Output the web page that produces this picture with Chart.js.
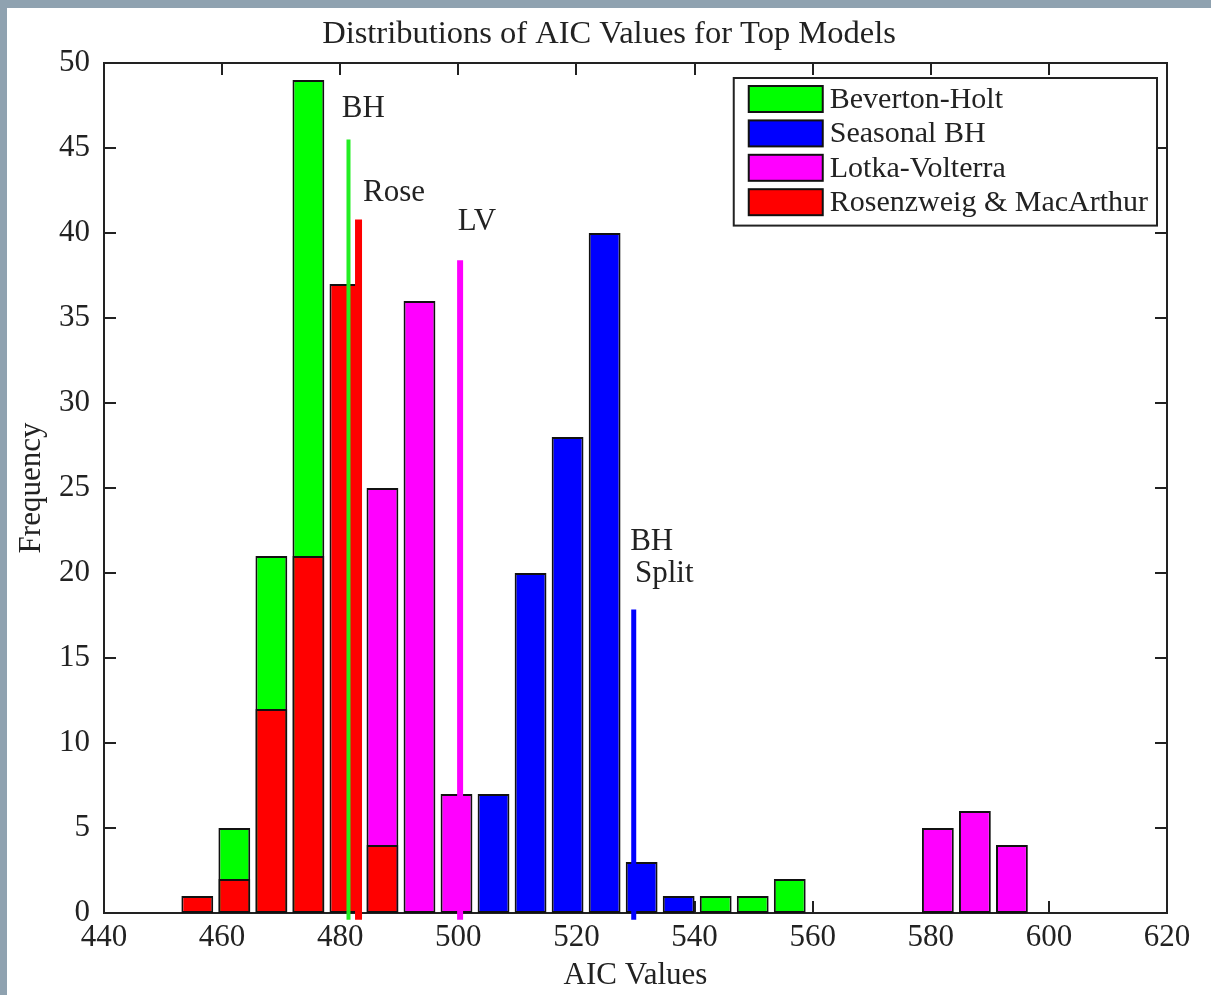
<!DOCTYPE html>
<html>
<head>
<meta charset="utf-8">
<title>Distributions of AIC Values for Top Models</title>
<script src="https://cdn.jsdelivr.net/npm/chart.js@4.4.1/dist/chart.umd.min.js"></script>
<style>
  html, body { margin: 0; padding: 0; background: #8fa2b0; overflow: hidden; }
  #frame { position: absolute; left: 7px; top: 8px; width: 1204px; height: 987px; background: #fff; }
  canvas { display: block; }
</style>
</head>
<body>
<div id="frame"><canvas id="aicChart" width="1204" height="987"></canvas></div>
<script>
/* ── DATA ─────────────────────────────────────────────── */
const binCenters   = [455.80, 462.07, 468.34, 474.61, 480.88, 487.15, 493.42, 499.69, 505.96, 512.23,
                      518.50, 524.77, 531.04, 537.31, 543.58, 549.85, 556.12, 581.20, 587.47, 593.74];
const bevertonHolt = [null, 5, 21, 49, null, null, null, null, null, null,
                      null, null, null, null, 1, 1, 2, null, null, null];
const seasonalBH   = [null, null, null, null, null, null, null, null, 7, 20,
                      28, 40, 3, 1, null, null, null, null, null, null];
const lotkaVolt    = [null, null, null, null, null, 25, 36, 7, null, null,
                      null, null, null, null, null, null, null, 5, 6, 4];
const rosenMac     = [1, 2, 12, 21, 37, 4, null, null, null, null,
                      null, null, null, null, null, null, null, null, null, null];

const seriesLabels = ['Beverton-Holt', 'Seasonal BH', 'Lotka-Volterra', 'Rosenzweig & MacArthur'];
const seriesColors = ['#00ff00', '#0000ff', '#ff00ff', '#ff0000'];

/* best-model marker lines (AIC value, height) */
const markerX      = [481.4, 483.1, 500.3, 529.7];
const markerTop    = [45.5, 40.8, 38.4, 17.85];
const markerColors = ['#22ee22', '#ff0000', '#ff00ff', '#0000ff'];
const markerWidths = [4, 7, 6, 5];

/* marker annotations */
const annoText = ['BH', 'Rose', 'LV', 'BH', 'Split'];
const annoX    = [480.25, 483.85, 499.9, 529.1, 529.9];
const annoY    = [46.8, 41.9, 40.2, 21.35, 19.5];

const xTickMin = 440, xTickMax = 620, xTickStep = 20;
const yTickMin = 0,   yTickMax = 50,  yTickStep = 5;

/* ── HELPERS ──────────────────────────────────────────── */
const SERIF = '"Liberation Serif", "Times New Roman", serif';
const INK   = '#222';

const toPoints = counts =>
  binCenters.map((x, i) => ({ x, y: counts[i] })).filter(p => p.y !== null);

const barSets = [bevertonHolt, seasonalBH, lotkaVolt, rosenMac].map((counts, i) => ({
  type: 'bar',
  label: seriesLabels[i],
  data: toPoints(counts),
  backgroundColor: seriesColors[i],
  borderColor: '#111',
  borderWidth: 2,
  borderSkipped: false,
  grouped: false,
  barPercentage: 0.86,
  categoryPercentage: 1,
  order: i === 3 ? 0 : 1          // red drawn in front
}));

const lineSets = markerX.map((x, i) => ({
  type: 'line',
  label: '',
  data: [{ x, y: -0.4 }, { x, y: markerTop[i] }],
  borderColor: markerColors[i],
  borderWidth: markerWidths[i],
  borderCapStyle: 'butt',
  pointRadius: 0,
  clip: false,
  order: -1
}));

/* ── PLUGINS ──────────────────────────────────────────── */
// box round the axes with inward ticks on all four sides (drawn behind bars)
const matlabAxes = {
  id: 'matlabAxes',
  beforeDatasetsDraw(chart) {
    const { ctx, chartArea: a, scales: { x, y } } = chart;
    const tl = 12;
    ctx.save();
    ctx.strokeStyle = INK;
    ctx.lineWidth = 2;
    ctx.strokeRect(a.left, a.top, a.right - a.left, a.bottom - a.top);
    ctx.beginPath();
    x.ticks.forEach(t => {
      const px = Math.round(x.getPixelForValue(t.value));
      ctx.moveTo(px, a.bottom); ctx.lineTo(px, a.bottom - tl);
      ctx.moveTo(px, a.top);    ctx.lineTo(px, a.top + tl);
    });
    y.ticks.forEach(t => {
      const py = Math.round(y.getPixelForValue(t.value));
      ctx.moveTo(a.left, py);  ctx.lineTo(a.left + tl, py);
      ctx.moveTo(a.right, py); ctx.lineTo(a.right - tl, py);
    });
    ctx.stroke();
    ctx.restore();
  }
};

// text labels next to the marker lines
const markerLabels = {
  id: 'markerLabels',
  afterDraw(chart) {
    const { ctx, scales: { x, y } } = chart;
    ctx.save();
    ctx.font = '31px ' + SERIF;
    ctx.fillStyle = INK;
    ctx.textAlign = 'left';
    ctx.textBaseline = 'alphabetic';
    annoText.forEach((t, i) => ctx.fillText(t, x.getPixelForValue(annoX[i]), y.getPixelForValue(annoY[i])));
    ctx.restore();
  }
};

// MATLAB style legend box inside the top-right corner
const boxLegend = {
  id: 'boxLegend',
  afterDraw(chart) {
    const { ctx, chartArea: a } = chart;
    const sets = chart.data.datasets.filter(d => d.type === 'bar');
    ctx.save();
    ctx.font = '30px ' + SERIF;
    const textW = Math.max(...sets.map(d => ctx.measureText(d.label).width));
    const swW = 74, swH = 26, rowH = 34.4;
    const w = 15 + swW + 7 + textW + 9;
    const h = 8 + rowH * sets.length + 2;
    const left = a.right - 10 - w, top = a.top + 15;
    ctx.fillStyle = '#fff';
    ctx.fillRect(left, top, w, h);
    ctx.strokeStyle = INK;
    ctx.lineWidth = 2;
    ctx.strokeRect(left, top, w, h);
    sets.forEach((d, i) => {
      const sy = top + 8 + i * rowH;
      ctx.fillStyle = d.backgroundColor;
      ctx.fillRect(left + 15, sy, swW, swH);
      ctx.strokeStyle = '#111';
      ctx.strokeRect(left + 15, sy, swW, swH);
      ctx.fillStyle = INK;
      ctx.textBaseline = 'alphabetic';
      ctx.fillText(d.label, left + 15 + swW + 7, sy + 22);
    });
    ctx.restore();
  }
};

/* ── CHART ────────────────────────────────────────────── */
new Chart(document.getElementById('aicChart'), {
  data: { datasets: [...barSets, ...lineSets] },
  options: {
    responsive: false,
    animation: false,
    events: [],
    layout: { padding: 0 },
    plugins: {
      legend: { display: false },
      tooltip: { enabled: false },
      title: {
        display: true,
        text: 'Distributions of AIC Values for Top Models',
        color: INK,
        font: { family: SERIF, size: 32.5, weight: 'normal', lineHeight: 1.2 },
        padding: { top: 7, bottom: 9 }
      }
    },
    scales: {
      x: {
        type: 'linear',
        offset: false,
        min: xTickMin, max: xTickMax,
        grid: { display: false, drawTicks: false, offset: false },
        border: { display: false },
        ticks: { stepSize: xTickStep, color: INK, padding: 6, font: { family: SERIF, size: 31 } },
        title: { display: true, text: 'AIC Values', color: INK, padding: { top: 0, bottom: 1 },
                 font: { family: SERIF, size: 31, lineHeight: 1.2 } },
        afterFit: s => { s.height = 82; }
      },
      y: {
        type: 'linear',
        min: yTickMin, max: yTickMax,
        grid: { display: false, drawTicks: false },
        border: { display: false },
        ticks: { stepSize: yTickStep, color: INK, padding: 14, font: { family: SERIF, size: 31 } },
        title: { display: true, text: 'Frequency', color: INK, padding: { top: 6, bottom: 0 },
                 font: { family: SERIF, size: 31, lineHeight: 1.2 } },
        afterFit: s => { s.width = 97; }
      },
      // empty right-hand axis: only reserves the white margin right of the box
      yRight: {
        type: 'linear',
        position: 'right',
        grid: { display: false, drawTicks: false },
        border: { display: false },
        ticks: { display: false },
        afterFit: s => { s.width = 44; }
      }
    }
  },
  plugins: [matlabAxes, markerLabels, boxLegend]
});
</script>
</body>
</html>
